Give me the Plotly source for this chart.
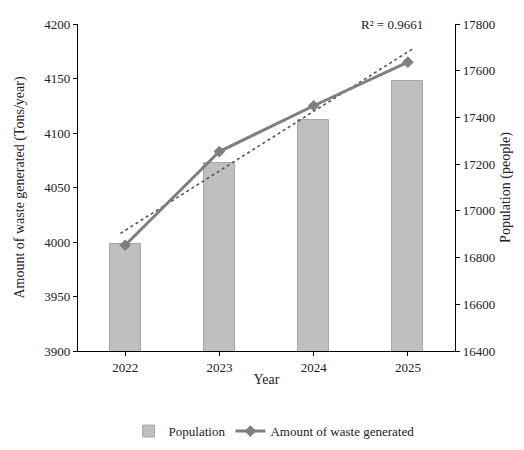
import numpy as np
import plotly.graph_objects as go

years = ["2022", "2023", "2024", "2025"]
population = [16858, 17207, 17387, 17556]
waste = [3997, 4083, 4125, 4165]
r2_label = "R² = 0.9661"

xpos = list(range(len(years)))
slope, intercept = np.polyfit(xpos, waste, 1)
trend_x = [xpos[0] - 0.05, xpos[-1] + 0.05]
trend_y = [slope * x + intercept for x in trend_x]

FONT = "Liberation Serif"

fig = go.Figure()
fig.add_trace(go.Bar(
    x=xpos, y=population, name="Population", yaxis="y",
    width=0.33, marker=dict(color="#bfbfbf", line=dict(color="#a8a8a8", width=1)),
))
fig.add_trace(go.Scatter(
    x=trend_x, y=trend_y, mode="lines", yaxis="y2", showlegend=False,
    line=dict(color="#555555", width=1.6, dash="dot"), hoverinfo="skip",
))
fig.add_trace(go.Scatter(
    x=xpos, y=waste, name="Amount of waste generated", yaxis="y2",
    mode="lines+markers",
    line=dict(color="#7f7f7f", width=3),
    marker=dict(symbol="diamond", size=9, color="#7f7f7f"),
))

fig.update_layout(
    width=524, height=450,
    margin=dict(l=70, r=77, t=16, b=97),
    paper_bgcolor="white", plot_bgcolor="white",
    font=dict(family=FONT, size=13, color="#222222"),
    bargap=0,
    xaxis=dict(
        range=[-0.5, 3.5], tickmode="array", tickvals=xpos, ticktext=years,
        showline=True, linecolor="black", linewidth=1.2,
        ticks="outside", ticklen=4, tickcolor="black",
        showgrid=False, zeroline=False, automargin=False,
        title=dict(text="Year", font=dict(family=FONT, size=14), standoff=0),
        tickfont=dict(family=FONT, size=13),
    ),
    yaxis=dict(
        side="right", range=[16400, 17800], dtick=200, tickformat="d",
        showline=True, linecolor="black", linewidth=1.2,
        ticks="outside", ticklen=4, tickcolor="black",
        showgrid=False, zeroline=False, automargin=False,
        title=dict(text="Population (people)", font=dict(family=FONT, size=14), standoff=5),
        tickfont=dict(family=FONT, size=13),
    ),
    yaxis2=dict(
        side="left", overlaying="y", range=[3900, 4200], dtick=50,
        showline=True, linecolor="black", linewidth=1.2,
        ticks="outside", ticklen=4, tickcolor="black",
        showgrid=False, zeroline=False, automargin=False,
        title=dict(text="Amount of waste generated (Tons/year)", font=dict(family=FONT, size=14), standoff=16),
        tickfont=dict(family=FONT, size=13),
    ),
    legend=dict(
        orientation="h", x=0.52, xanchor="center", y=-0.245, yanchor="middle",
        font=dict(family=FONT, size=13), traceorder="normal",
    ),
    annotations=[dict(
        text=r2_label, xref="paper", yref="paper", x=0.92, y=1.0,
        xanchor="right", yanchor="middle", showarrow=False,
        font=dict(family=FONT, size=13),
    )],
)

fig.write_html("out.html")
